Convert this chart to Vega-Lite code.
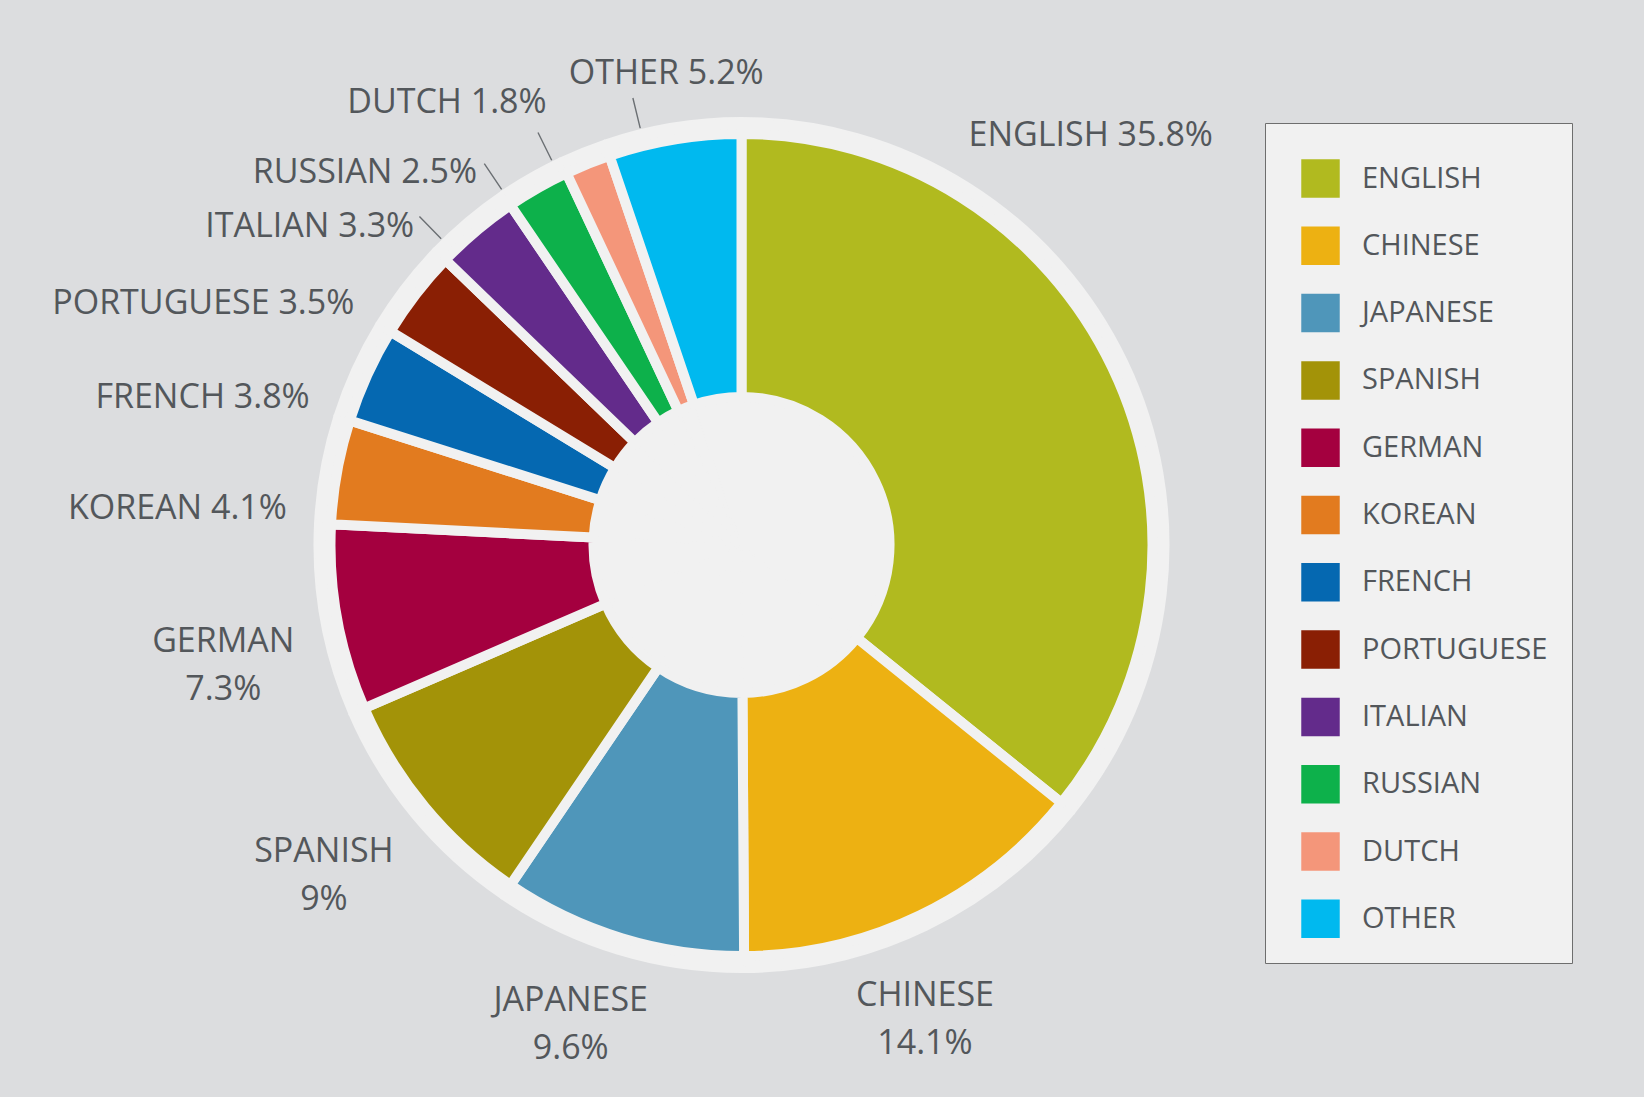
{
  "$schema": "https://vega.github.io/schema/vega-lite/v6.json",
  "width": 1483,
  "height": 1090,
  "autosize": {"type": "none"},
  "padding": {"left": 0, "top": 0, "right": 161, "bottom": 7},
  "background": "#dcdddf",
  "config": {"view": {"stroke": null}},
  "data": {
    "values": [
      {"ord": 1, "lang": "English", "pct": 35.8, "label": "ENGLISH 35.8%"},
      {"ord": 2, "lang": "Chinese", "pct": 14.1, "label": "CHINESE\n14.1%"},
      {"ord": 3, "lang": "Japanese", "pct": 9.6, "label": "JAPANESE\n9.6%"},
      {"ord": 4, "lang": "Spanish", "pct": 9, "label": "SPANISH\n9%"},
      {"ord": 5, "lang": "German", "pct": 7.3, "label": "GERMAN\n7.3%"},
      {"ord": 6, "lang": "Korean", "pct": 4.1, "label": "KOREAN 4.1%"},
      {"ord": 7, "lang": "French", "pct": 3.8, "label": "FRENCH 3.8%"},
      {"ord": 8, "lang": "Portuguese", "pct": 3.5, "label": "PORTUGUESE 3.5%"},
      {"ord": 9, "lang": "Italian", "pct": 3.3, "label": "ITALIAN 3.3%"},
      {"ord": 10, "lang": "Russian", "pct": 2.5, "label": "RUSSIAN 2.5%"},
      {"ord": 11, "lang": "Dutch", "pct": 1.8, "label": "DUTCH 1.8%"},
      {"ord": 12, "lang": "Other", "pct": 5.2, "label": "OTHER 5.2%"}
    ]
  },
  "layer": [
    {
      "mark": {"type": "arc", "radius": 427, "fill": "#f1f1f1", "stroke": "#f1f1f1", "strokeWidth": 2},
      "encoding": {
        "theta": {"field": "pct", "type": "quantitative", "stack": true},
        "order": {"field": "ord", "type": "quantitative"},
        "detail": {"field": "lang", "type": "nominal"}
      }
    },
    {
      "mark": {"type": "arc", "radius": 411, "radius2": 148, "stroke": "#f1f1f1", "strokeWidth": 10, "strokeJoin": "round"},
      "encoding": {
        "theta": {"field": "pct", "type": "quantitative", "stack": true},
        "order": {"field": "ord", "type": "quantitative"},
        "color": {
          "field": "lang",
          "type": "nominal",
          "scale": {
            "domain": ["English", "Chinese", "Japanese", "Spanish", "German", "Korean", "French", "Portuguese", "Italian", "Russian", "Dutch", "Other"],
            "range": ["#b1ba1f", "#edb112", "#4f96ba", "#a39308", "#a4003f", "#e27b1f", "#0568b1", "#8a1f04", "#632b8b", "#0db14b", "#f4967a", "#00b9ef"]
          },
          "legend": {
            "title": " ",
            "titleFontSize": 12,
            "titlePadding": 0,
            "orient": "none",
            "legendX": 1265,
            "legendY": 123,
            "padding": 24,
            "symbolOffset": 12,
            "fillColor": "#f1f1f1",
            "strokeColor": "#6e6e6e",
            "symbolType": "square",
            "symbolSize": 1480,
            "symbolStrokeWidth": 0,
            "symbolOpacity": 1,
            "rowPadding": 28.3,
            "labelOffset": 22,
            "labelFont": "Open Sans",
            "labelFontSize": 29,
            "labelColor": "#53575b",
            "labelLimit": 400,
            "labelExpr": "upper(datum.label)"
          }
        }
      }
    },
    {
      "mark": {"type": "arc", "filled": false, "stroke": "#6b6f73", "strokeWidth": 1.4, "radius": 460, "radius2": 429, "padAngle": 3, "thetaOffset": -0.075, "theta2Offset": -0.075},
      "encoding": {
        "theta": {"field": "pct", "type": "quantitative", "stack": true},
        "order": {"field": "ord", "type": "quantitative"},
        "detail": {"field": "lang", "type": "nominal"},
        "strokeOpacity": {
          "condition": {"test": "indexof(['Other','Dutch','Russian','Italian'], datum.lang) >= 0", "value": 1},
          "value": 0
        }
      }
    },
    {
      "mark": {"type": "text", "font": "Open Sans", "fontSize": 34, "color": "#53575b", "align": "left", "baseline": "middle", "radius": 468, "thetaOffset": -0.618},
      "encoding": {
        "theta": {"field": "pct", "type": "quantitative", "stack": true},
        "order": {"field": "ord", "type": "quantitative"},
        "detail": {"field": "lang", "type": "nominal"},
        "text": {"condition": {"test": "datum.lang === 'English'", "field": "label"}, "value": ""}
      }
    },
    {
      "mark": {"type": "text", "font": "Open Sans", "fontSize": 34, "color": "#53575b", "align": "center", "baseline": "middle", "lineBreak": "\n", "lineHeight": 48, "radius": 487, "thetaOffset": 0.063},
      "encoding": {
        "theta": {"field": "pct", "type": "quantitative", "stack": true},
        "order": {"field": "ord", "type": "quantitative"},
        "detail": {"field": "lang", "type": "nominal"},
        "text": {"condition": {"test": "datum.lang === 'Chinese' || datum.lang === 'Japanese'", "field": "label"}, "value": ""}
      }
    },
    {
      "mark": {"type": "text", "font": "Open Sans", "fontSize": 34, "color": "#53575b", "align": "center", "baseline": "middle", "lineBreak": "\n", "lineHeight": 48, "radius": 532, "thetaOffset": 0.023, "dy": -23},
      "encoding": {
        "theta": {"field": "pct", "type": "quantitative", "stack": true},
        "order": {"field": "ord", "type": "quantitative"},
        "detail": {"field": "lang", "type": "nominal"},
        "text": {"condition": {"test": "datum.lang === 'Spanish'", "field": "label"}, "value": ""}
      }
    },
    {
      "mark": {"type": "text", "font": "Open Sans", "fontSize": 34, "color": "#53575b", "align": "center", "baseline": "middle", "lineBreak": "\n", "lineHeight": 48, "radius": 532, "thetaOffset": -0.049, "dy": -23},
      "encoding": {
        "theta": {"field": "pct", "type": "quantitative", "stack": true},
        "order": {"field": "ord", "type": "quantitative"},
        "detail": {"field": "lang", "type": "nominal"},
        "text": {"condition": {"test": "datum.lang === 'German'", "field": "label"}, "value": ""}
      }
    },
    {
      "mark": {"type": "text", "font": "Open Sans", "fontSize": 34, "color": "#53575b", "align": "right", "baseline": "middle", "radius": 456, "thetaOffset": -0.1},
      "encoding": {
        "theta": {"field": "pct", "type": "quantitative", "stack": true},
        "order": {"field": "ord", "type": "quantitative"},
        "detail": {"field": "lang", "type": "nominal"},
        "text": {"condition": {"test": "indexof(['Korean','French','Portuguese','Italian','Russian'], datum.lang) >= 0", "field": "label"}, "value": ""}
      }
    },
    {
      "mark": {"type": "text", "font": "Open Sans", "fontSize": 34, "color": "#53575b", "align": "right", "baseline": "middle", "radius": 483, "thetaOffset": -0.032},
      "encoding": {
        "theta": {"field": "pct", "type": "quantitative", "stack": true},
        "order": {"field": "ord", "type": "quantitative"},
        "detail": {"field": "lang", "type": "nominal"},
        "text": {"condition": {"test": "datum.lang === 'Dutch'", "field": "label"}, "value": ""}
      }
    },
    {
      "mark": {"type": "text", "font": "Open Sans", "fontSize": 34, "color": "#53575b", "align": "center", "baseline": "middle", "radius": 477, "thetaOffset": 0.005},
      "encoding": {
        "theta": {"field": "pct", "type": "quantitative", "stack": true},
        "order": {"field": "ord", "type": "quantitative"},
        "detail": {"field": "lang", "type": "nominal"},
        "text": {"condition": {"test": "datum.lang === 'Other'", "field": "label"}, "value": ""}
      }
    }
  ]
}
